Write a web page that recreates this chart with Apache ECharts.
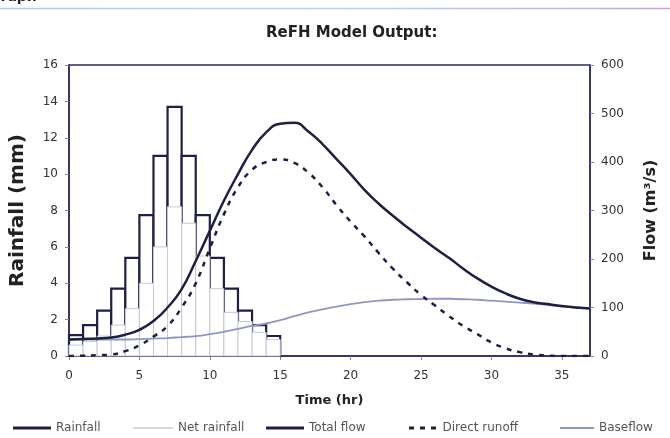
<!DOCTYPE html>
<html>
<head>
<meta charset="utf-8">
<script src="https://cdn.jsdelivr.net/npm/echarts@6/dist/echarts.min.js"></script>
<style>
html,body{margin:0;padding:0;background:#ffffff;}
#chart{width:670px;height:438px;}
</style>
</head>
<body>
<div id="chart"></div>
<script>
// ---- data ----
const barStart = [0,1,2,3,4,5,6,7,8,9,10,11,12,13,14];
const barStep = 1;
const rainfall = [1.15,1.7,2.5,3.7,5.4,7.75,11.0,13.7,11.0,7.75,5.4,3.7,2.5,1.7,1.1];
const netRainfall = [0.6,0.8,1.1,1.7,2.6,4.0,6.0,8.2,7.3,5.5,3.7,2.4,1.9,1.3,0.9];

const hours = [0,1,2,3,4,5,6,7,8,9,10,11,12,13,14,15,16,17,18,19,20,21,22,23,24,25,26,27,28,29,30,31,32,33,34,35,36,37];
const totalFlow = [34,35,36,38,44,54,72,100,138,196,258,320,375,425,461,479,481,463,437,406,375,342,314,289,266,244,222,202,180,160,143,129,118,111,107,103,100,98];
const directRunoff = [0,0.5,1.5,3,10,22,40,62,100,150,222,292,348,384,400,405,398,378,348,311,277,246,212,180,152,126,104,82,62,45,28,16,8,3,1,0,0,0];
const baseflow = [34,34,34,34,34,35,36,37,39,41,45,50,56,62,67,74,82,90,96,102,107,111,114,116,117,117.5,118,118,117,116,114,112,110,108,105,102,100,98];

const xTicks = {min:0, max:37, interval:5};
const rainTicks = {min:0, max:16, interval:2};
const flowTicks = {min:0, max:600, interval:100};

// ---- build ----
const rainData = barStart.map((t,i)=>[t, t+barStep, rainfall[i]]);
const netData = barStart.map((t,i)=>[t, t+barStep, netRainfall[i]]);
const pair = arr => hours.map((h,i)=>[h, arr[i]]);

function barRenderer(fill, stroke, lw){
  return function(params, api){
    const x0 = api.value(0), x1 = api.value(1), v = api.value(2);
    const p0 = api.coord([x0, v]);
    const p1 = api.coord([x1, 0]);
    return {type:'rect', shape:{x:p0[0], y:p0[1], width:p1[0]-p0[0], height:p1[1]-p0[1]},
            style:{fill:fill, stroke:stroke, lineWidth:lw}};
  };
}

const dark = '#1f2040';
const baseCol = '#9098bf';
const netCol = '#c8c8d6';
const axisCol = '#2a2c55';
const labelFont = {fontFamily:'DejaVu Sans', fontSize:12, color:'#333'};

function legendAt(name, left, w, h, icon, color){
  return {
    data:[{name:name, icon:icon, itemStyle:{color:color, borderWidth:0}}],
    left:left, top:417, itemGap:0,
    itemWidth:w, itemHeight:h,
    textStyle:{fontFamily:'DejaVu Sans', fontSize:12, color:'#555', padding:[0,0,0,0]},
    selectedMode:false
  };
}

const chart = echarts.init(document.getElementById('chart'));
chart.setOption({
  animation:false,
  backgroundColor:'#ffffff',
  title:{text:'ReFH Model Output:', left:261, top:21,
    textStyle:{fontFamily:'DejaVu Sans', fontWeight:'bold', fontSize:15, color:'#222'}},
  graphic:[
    {type:'text', left:-11, top:-10, style:{text:'Graph', font:'bold 14px DejaVu Sans', fill:'#222'}},
    {type:'line', shape:{x1:0,y1:8.5,x2:670,y2:8.5},
     style:{lineWidth:1.5, stroke:new echarts.graphic.LinearGradient(0,0,1,0,[{offset:0,color:'#a9cfd8'},{offset:0.5,color:'#b9d6e2'},{offset:1,color:'#c2a6dc'}])}}
  ],
  grid:{left:67, right:80, top:65, bottom:82, show:true, borderColor:axisCol, borderWidth:1.5, backgroundColor:'transparent'},
  legend:[
    legendAt('Rainfall', 8, 38, 3, 'rect', dark),
    legendAt('Net rainfall', 128, 40, 1.5, 'rect', netCol),
    legendAt('Total flow', 261, 38, 3, 'rect', dark),
    legendAt('Direct runoff', 404, 30, 3, 'path://M0,0h5v3h-5z M11,0h5v3h-5z M22,0h5v3h-5z', dark),
    legendAt('Baseflow', 555, 34, 1.8, 'rect', baseCol)
  ],
  xAxis:{type:'value', min:xTicks.min, max:xTicks.max, interval:xTicks.interval,
    name:'Time (hr)', nameLocation:'middle', nameGap:38,
    nameTextStyle:{fontFamily:'DejaVu Sans', fontWeight:'bold', fontSize:13, color:'#222'},
    axisLine:{show:true, lineStyle:{color:axisCol, width:1.5}},
    axisTick:{show:true, length:4, lineStyle:{color:'#888'}},
    axisLabel:Object.assign({margin:14, showMaxLabel:false}, labelFont),
    splitLine:{show:false}},
  yAxis:[
    {type:'value', min:rainTicks.min, max:rainTicks.max, interval:rainTicks.interval,
     name:'Rainfall (mm)', nameLocation:'middle', nameGap:41,
     nameTextStyle:{fontFamily:'DejaVu Sans', fontWeight:'bold', fontSize:20, color:'#222'},
     axisLine:{show:true, lineStyle:{color:axisCol, width:1.5}},
     axisTick:{show:true, length:4, lineStyle:{color:'#888'}},
     axisLabel:Object.assign({margin:11}, labelFont),
     splitLine:{show:false}},
    {type:'value', min:flowTicks.min, max:flowTicks.max, interval:flowTicks.interval, position:'right',
     name:'Flow (m³/s)', nameLocation:'middle', nameGap:53,
     nameTextStyle:{fontFamily:'DejaVu Sans', fontWeight:'bold', fontSize:16, color:'#222'},
     axisLine:{show:true, lineStyle:{color:axisCol, width:1.5}},
     axisTick:{show:true, length:4, lineStyle:{color:'#888'}},
     axisLabel:Object.assign({margin:11}, labelFont),
     splitLine:{show:false}}
  ],
  series:[
    {name:'Rainfall', type:'custom', xAxisIndex:0, yAxisIndex:0, z:1,
     itemStyle:{color:dark}, encode:{x:[0,1], y:2},
     renderItem:barRenderer('#ffffff', dark, 2.2), data:rainData},
    {name:'Net rainfall', type:'custom', xAxisIndex:0, yAxisIndex:0, z:2,
     itemStyle:{color:netCol}, encode:{x:[0,1], y:2},
     renderItem:barRenderer('#ffffff', netCol, 1), data:netData},
    {name:'Total flow', type:'line', yAxisIndex:1, z:5, smooth:true, symbol:'none',
     lineStyle:{color:dark, width:2.5}, itemStyle:{color:dark}, data:pair(totalFlow)},
    {name:'Direct runoff', type:'line', yAxisIndex:1, z:5, smooth:true, symbol:'none',
     lineStyle:{color:dark, width:2.5, type:[5,6]}, itemStyle:{color:dark}, data:pair(directRunoff)},
    {name:'Baseflow', type:'line', yAxisIndex:1, z:4, smooth:true, symbol:'none',
     lineStyle:{color:baseCol, width:1.8}, itemStyle:{color:baseCol}, data:pair(baseflow)}
  ]
});
</script>
</body>
</html>
